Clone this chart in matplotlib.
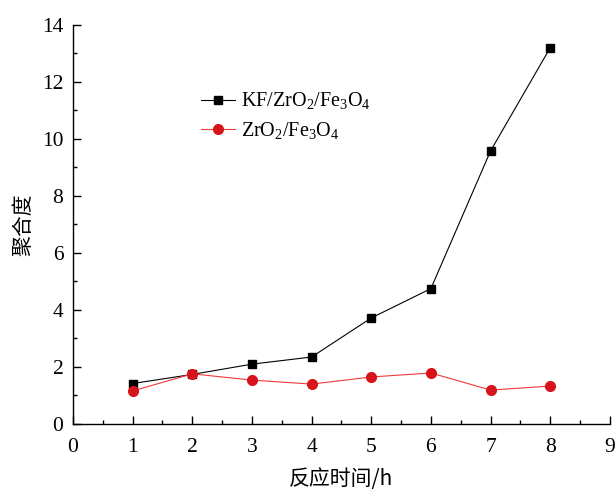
import matplotlib.pyplot as plt
import numpy as np

plt.rcParams['font.family'] = ['Liberation Serif', 'Noto Sans CJK SC']
plt.rcParams['mathtext.fontset'] = 'custom'
plt.rcParams['mathtext.rm'] = 'Liberation Serif'

hours = [1, 2, 3, 4, 5, 6, 7, 8]
kf_zro2_fe3o4 = [1.42, 1.74, 2.1, 2.35, 3.72, 4.75, 9.58, 13.2]
zro2_fe3o4 = [1.16, 1.76, 1.54, 1.40, 1.65, 1.79, 1.19, 1.33]

fig = plt.figure(figsize=(6.16, 4.9), dpi=100)
ax = fig.add_axes([0.1185, 0.1347, 0.8715, 0.8143])

ax.plot(hours, kf_zro2_fe3o4, color='black', lw=0.8, marker='s', ms=6,
        label=r'KF/ZrO$_\mathrm{2}$/Fe$_\mathrm{3}$O$_\mathrm{4}$')
ax.plot(hours, zro2_fe3o4, color='#ee3a3a', lw=0.8, marker='o', ms=7,
        mfc='#d7141c', mec='#d7141c', label=r'ZrO$_\mathrm{2}$/Fe$_\mathrm{3}$O$_\mathrm{4}$')

ax.set_xlim(0, 9)
ax.set_ylim(0, 14)
ax.set_xticks(np.arange(0, 10, 1))
ax.set_yticks(np.arange(0, 15, 2))
ax.set_xticks(np.arange(0.5, 9, 1), minor=True)
ax.set_yticks(np.arange(1, 14, 2), minor=True)
ax.tick_params(which='both', direction='in', labelsize=15.5, width=1)
ax.tick_params(which='major', length=6)
ax.tick_params(which='minor', length=3)
ax.tick_params(axis='x', pad=10)
ax.tick_params(axis='y', pad=7)
for s in ['top', 'right']:
    ax.spines[s].set_visible(False)
for s in ['left', 'bottom']:
    ax.spines[s].set_linewidth(1)

ax.set_xlabel('反应时间/h', fontsize=15, family=['Noto Sans CJK SC', 'Liberation Serif'], labelpad=8)
ax.set_ylabel('聚合度', fontsize=15, family=['Noto Sans CJK SC'], labelpad=5)

ax.legend(loc='upper left', bbox_to_anchor=(0.205, 0.88), frameon=False,
          fontsize=14.5, handlelength=1.7, handletextpad=0.3, labelspacing=0.4)

fig.savefig('out.png', dpi=100)
